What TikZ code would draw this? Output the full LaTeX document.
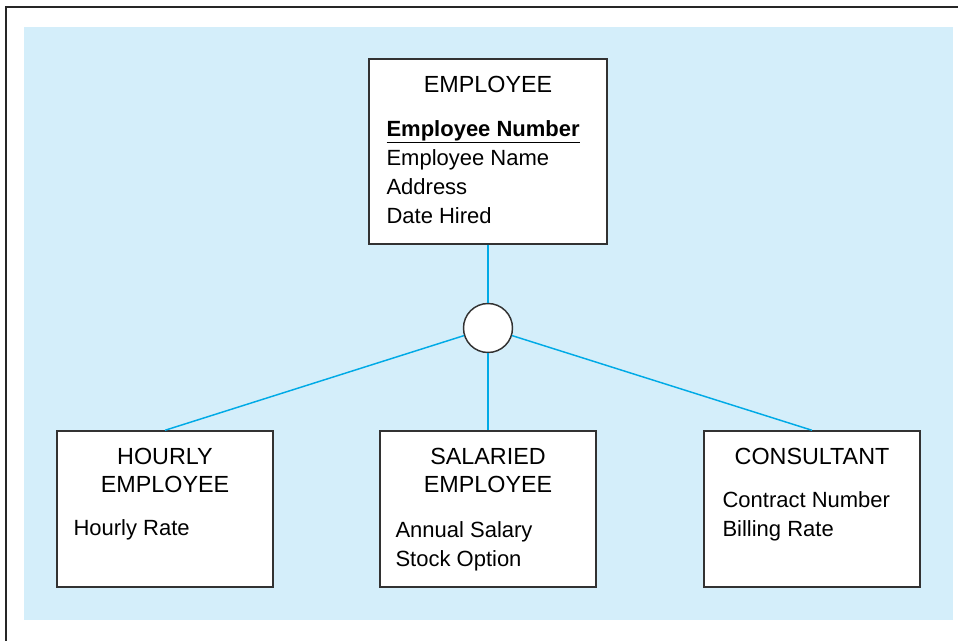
\documentclass[tikz,border=0pt]{standalone}
\usepackage{fontspec}
\setmainfont{Liberation Sans}
\usetikzlibrary{positioning}
\usepackage{xcolor}
\definecolor{ERBack}{RGB}{212,238,250}
\definecolor{ERLine}{RGB}{0,170,230}
\definecolor{ERBorder}{RGB}{50,50,50}

\begin{document}
\begin{tikzpicture}[
x=0.75pt, y=-0.75pt,
entity/.style={
rectangle,
draw=ERBorder,
fill=white,
line width=1.1pt,
minimum width=162pt,
minimum height=117pt,
inner sep=0pt
},
subtype/.style={
circle,
draw=ERBorder,
fill=white,
line width=1.1pt,
minimum size=36.75pt,
inner sep=0pt
},
title/.style={
anchor=base,
align=center,
inner sep=0pt,
font=\fontsize{17.5}{21}\selectfont
},
attr/.style={
anchor=base west,
align=left,
inner sep=0pt,
font=\fontsize{16.5}{21.75}\selectfont
},
link/.style={
draw=ERLine,
line width=1.1pt
}
]

\useasboundingbox (0,0) rectangle (958,640);
\draw[line width=2.2pt, black!85] (6,7) rectangle (1000,700);
\fill[ERBack] (24,27) rectangle (953,620);

\node[entity, minimum width=178.5pt, minimum height=138.75pt] (emp) at (488,151.5) {};
\node[subtype] (circ) at (488,328) {};
\node[entity] (hourly) at (165,509) {};
\node[entity] (salaried) at (488,509) {};
\node[entity] (consult) at (812,509) {};

\draw[link] (emp) -- (circ);
\draw[link] (circ) -- (hourly.north);
\draw[link] (circ) -- (salaried.north);
\draw[link] (circ) -- (consult.north);

% base anchor of a multi-line node sits on its last line
\node[title] (empT) at ([shift={(0,34)}]emp.north) {EMPLOYEE};
\node[attr] (empA) at ([shift={(18,165)}]emp.north west) {\textbf{\underline{Employee Number}}\\Employee Name\\Address\\Date Hired};

\node[title] (hourlyT) at ([shift={(0,62)}]hourly.north) {HOURLY\\EMPLOYEE};
\node[attr] (hourlyA) at ([shift={(17,105)}]hourly.north west) {Hourly Rate};

\node[title] (salariedT) at ([shift={(0,62)}]salaried.north) {SALARIED\\EMPLOYEE};
\node[attr] (salariedA) at ([shift={(16,136)}]salaried.north west) {Annual Salary\\Stock Option};

\node[title] (consultT) at ([shift={(0,34)}]consult.north) {CONSULTANT};
\node[attr] (consultA) at ([shift={(19,106)}]consult.north west) {Contract Number\\Billing Rate};

\end{tikzpicture}
\end{document}
